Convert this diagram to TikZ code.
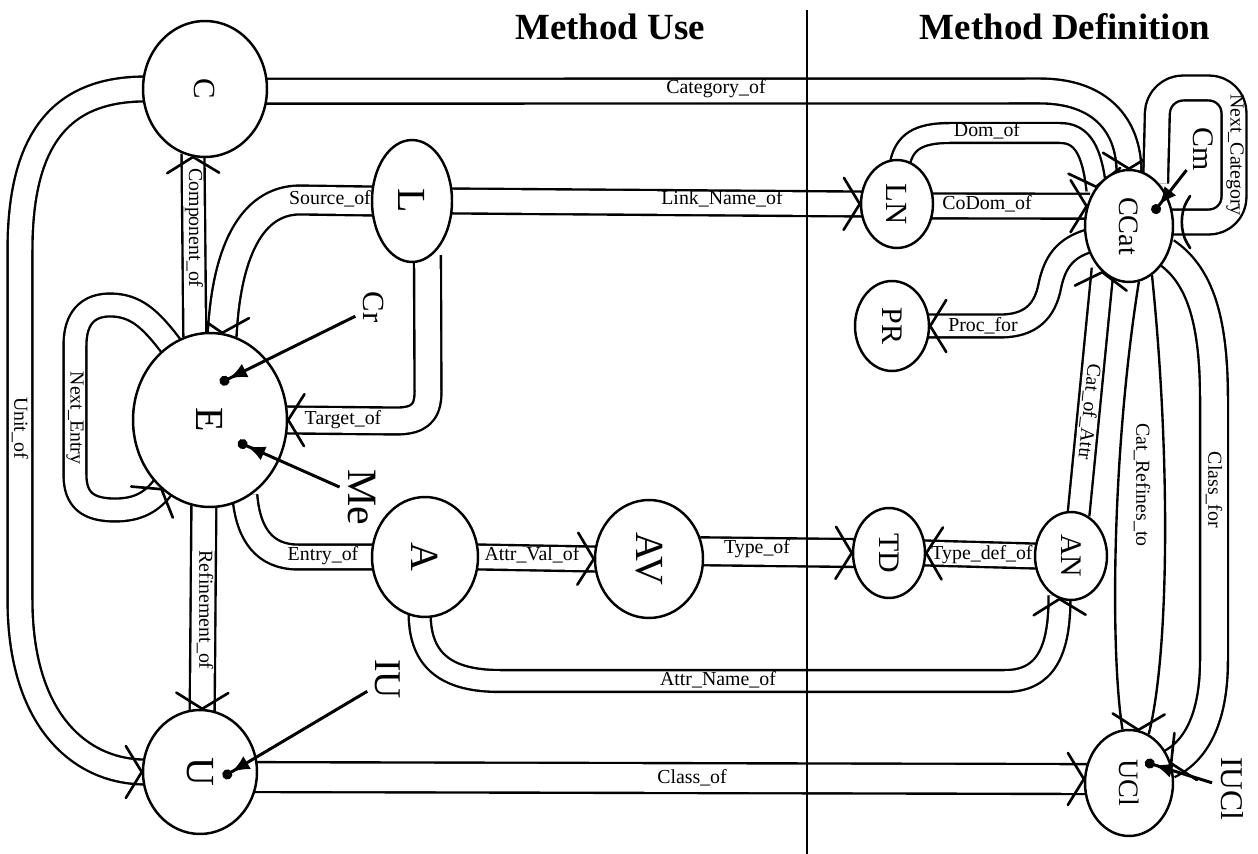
\documentclass[tikz,border=0pt]{standalone}
\usepackage{fontspec}
\setmainfont{Liberation Serif}
\usetikzlibrary{shapes.geometric,arrows.meta,decorations.markings,backgrounds}
\newcommand\fsz[1]{\fontsize{#1pt}{#1pt}\selectfont}
\newcommand\rtxt[1]{\rotatebox{-90}{#1}}
\tikzset{
  ent/.style={draw, ellipse, line width=1.4pt, fill=white, inner sep=0pt},
  chev/.style={draw, line width=1.5pt, line cap=round, line join=round},
  tipmark/.style={postaction={decorate, decoration={markings,
      mark=at position 1 with {\draw[chev] (-16,26) -- (0,0) -- (-16,-26);}}}},
  pipe/.style={preaction={draw, double, double distance=#1, line width=1.35pt,
      line join=round, shorten <=-2pt, shorten >=-2pt}, tipmark},
  pipe/.default=0.45cm,
  rail/.style={draw, line width=1.35pt},
  elabel/.style={font=\fsz{11.3}, inner sep=0pt},
  vlabel/.style={elabel, rotate=-90},
  plabel/.style={inner sep=1pt, rotate=-90},
  pointer/.style={draw, line width=1.7pt, shorten <=4pt,
      -{Latex[length=0.36cm,width=0.3cm]Circle[length=0.2cm]}},
  heading/.style={font=\bfseries\fsz{21}, inner sep=0pt},
}
\begin{document}
\begin{tikzpicture}[x=0.02cm, y=0.02cm]
\useasboundingbox (0,0) rectangle (1258,-854);

% entity nodes
\node[ent, minimum width=2.48cm, minimum height=2.72cm, font=\fsz{17.5}] (C) at (205,-89) {\rtxt{C}};
\node[ent, minimum width=1.6cm, minimum height=2.44cm, font=\fsz{22.7}] (L) at (412,-201) {\rtxt{L}};
\node[ent, minimum width=3.08cm, minimum height=3.48cm, font=\fsz{22.7}] (E) at (210,-420) {\rtxt{E}};
\node[ent, minimum width=2.28cm, minimum height=2.48cm, font=\fsz{22.7}] (U) at (200,-772) {\rtxt{U}};
\node[ent, minimum width=2.12cm, minimum height=2.4cm, font=\fsz{22.7}] (A) at (425,-557) {\rtxt{A}};
\node[ent, minimum width=2.16cm, minimum height=2.36cm, font=\fsz{22.7}] (AV) at (649,-559) {\rtxt{AV}};
\node[ent, minimum width=1.44cm, minimum height=1.8cm, font=\fsz{17}] (TD) at (889,-553) {\rtxt{TD}};
\node[ent, minimum width=1.44cm, minimum height=1.76cm, font=\fsz{17}] (AN) at (1071,-556) {\rtxt{AN}};
\node[ent, minimum width=1.48cm, minimum height=1.8cm, font=\fsz{17}] (PR) at (892,-326) {\rtxt{PR}};
\node[ent, minimum width=1.44cm, minimum height=1.76cm, font=\fsz{17.5}] (LN) at (897,-204) {\rtxt{LN}};
\node[ent, minimum width=1.76cm, minimum height=2.24cm, font=\fsz{16}] (CCat) at (1129,-226) {\rtxt{CCat}};
\node[ent, minimum width=1.76cm, minimum height=2.12cm, font=\fsz{16}] (UCl) at (1129,-783) {\rtxt{UCl}};

% relationship pipes, kept behind the entities
\begin{scope}[on background layer]
\fill[white] (0,0) rectangle (1258,-854);
\path[pipe] (C.-2) -- (1040,-91) .. controls (1100,-91) and (1129,-125) .. (CCat.north);
\path[pipe=0.53cm] (L.west) -- (300,-200) .. controls (250,-200) and (226,-255) .. (E.82);
\path[pipe=0.49cm] (L.-75) -- (428,-392) .. controls (428,-414) and (418,-421) .. (396,-421) -- (E.east);
\path[pipe] (A.west) -- (298,-557) .. controls (265,-557) and (248,-535) .. (E.-66);
\path[pipe=0.41cm] (E.100) -- (C.-100);
\path[pipe] (E.-94) -- (U.88);
\path[pipe] (C.west) .. controls (60,-89) and (20,-140) .. (20,-250) -- (20,-600)
   .. controls (20,-720) and (80,-772) .. (U.west);
\path[pipe=0.41cm] (E.118) .. controls (150,-318) and (135,-305) .. (110,-305)
   .. controls (88,-305) and (75,-318) .. (75,-345) -- (75,-475)
   .. controls (75,-500) and (88,-510) .. (115,-510)
   .. controls (138,-510) and (152,-502) .. (E.-125);
\path[pipe=0.55cm] (U.-5) -- (UCl.175);
\path[pipe] (A.east) -- (AV.west);
\path[pipe=0.51cm] (AV.8) -- (TD.west);
\path[pipe=0.39cm] (A.-95) .. controls (420,-662) and (448,-681) .. (500,-681) -- (1005,-681)
   .. controls (1045,-681) and (1060,-652) .. (AN.-105);
\path[pipe] (L.east) -- (LN.west);
\path[pipe] (AN.west) -- (TD.east);
\path[pipe=0.35cm] (LN.85) .. controls (905,-142) and (918,-133) .. (950,-133) -- (1060,-133)
   .. controls (1082,-133) and (1092,-150) .. (CCat.130);
\path[pipe] (LN.-3) -- (CCat.155);
\path[pipe=0.41cm] (CCat.200) .. controls (1065,-248) and (1055,-262) .. (1050,-285)
   .. controls (1045,-312) and (1030,-326) .. (1000,-326) -- (PR.east);
\path[pipe=0.39cm] (AN.80) -- (CCat.-120);
\path[pipe=0.51cm] (CCat.-35) .. controls (1200,-275) and (1214,-320) .. (1214,-400) -- (1214,-660)
   .. controls (1214,-720) and (1195,-752) .. (UCl.25);
\path[pipe, rounded corners=0.5cm] (CCat.60) -- (1158,-88) -- (1234,-88) -- (1234,-222) -- (CCat.5);
% the widening Cat_Refines_to pipe
\draw[rail] (CCat.-80) .. controls (1112,-450) and (1110,-650) .. (UCl.97);
\draw[rail] (CCat.-65) .. controls (1170,-450) and (1170,-650) .. (UCl.68);
\path[tipmark] (CCat.-72) .. controls (1141,-450) and (1140,-650) .. (UCl.80);
\end{scope}

% pipe labels
\node[elabel] (tCatOf) at (716,-89) {Category\_of};
\node[elabel] (tLink) at (722,-199) {Link\_Name\_of};
\node[elabel] (tSrc) at (330,-199) {Source\_of};
\node[elabel] (tTgt) at (343,-420) {Target\_of};
\node[elabel] (tEntry) at (323,-556) {Entry\_of};
\node[elabel] (tAVal) at (532,-555) {Attr\_Val\_of};
\node[elabel] (tType) at (757,-549) {Type\_of};
\node[elabel] (tTDef) at (982,-555) {Type\_def\_of};
\node[elabel] (tAName) at (718,-680) {Attr\_Name\_of};
\node[elabel] (tClassOf) at (692,-778) {Class\_of};
\node[elabel] (tDom) at (987,-131) {Dom\_of};
\node[elabel] (tCoDom) at (987,-204) {CoDom\_of};
\node[elabel] (tProc) at (983,-326) {Proc\_for};
\node[vlabel] (tComp) at (194,-228) {Component\_of};
\node[vlabel] (tNext) at (75,-418) {Next\_Entry};
\node[vlabel] (tUnit) at (20,-428) {Unit\_of};
\node[vlabel] (tRef) at (205,-610) {Refinement\_of};
\node[elabel, rotate=-95.8] (tCatAttr) at (1089,-412) {Cat\_of\_Attr};
\node[vlabel] (tCatRef) at (1142,-485) {Cat\_Refines\_to};
\node[vlabel] (tClassFor) at (1214,-490) {Class\_for};
\node[vlabel] (tNextCat) at (1235,-155) {Next\_Category};

% instance pointers
\node[plabel, font=\fsz{17.5}] (Cr) at (374,-307) {Cr};
\coordinate (crpt) at (220,-383);
\draw[pointer] (Cr) -- (crpt);
\node[plabel, font=\fsz{23.8}] (Me) at (362,-497) {Me};
\coordinate (mept) at (238,-442);
\draw[pointer] (Me) -- (mept);
\node[plabel, font=\fsz{21.5}] (IU) at (388,-679) {IU};
\coordinate (iupt) at (223,-777);
\draw[pointer] (IU) -- (iupt);
\node[plabel, font=\fsz{18}] (IUCl) at (1232,-789) {IUCl};
\coordinate (iuclpt) at (1145,-762);
\draw[pointer] (IUCl) -- (iuclpt);
\node[plabel, font=\fsz{17}] (Cm) at (1203,-149) {Cm};
\coordinate (cmpt) at (1153,-213);
\draw[pointer] (Cm) -- (cmpt);

% headings and the dividing line
\node[heading] (hUse) at (610,-27) {Method Use};
\node[heading] (hDef) at (1065,-27) {Method Definition};
\draw[line width=1.6pt] (807,-10) -- (807,-854);
\end{tikzpicture}
\end{document}
